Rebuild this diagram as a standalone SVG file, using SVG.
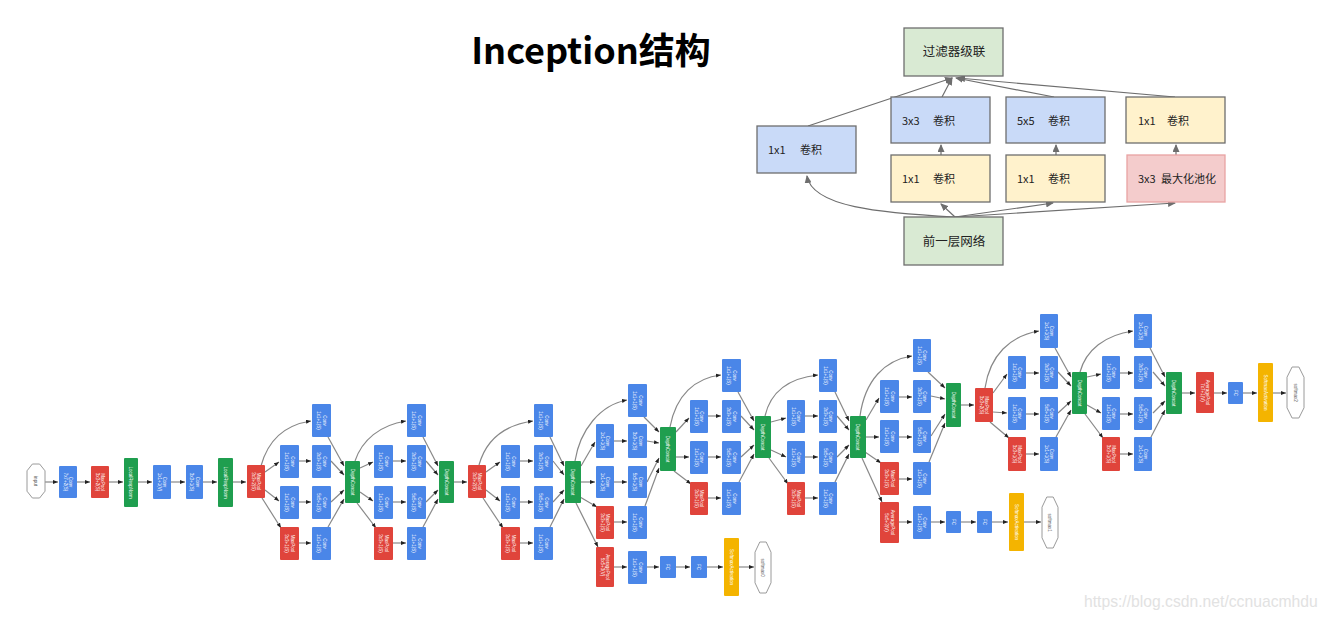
<svg xmlns="http://www.w3.org/2000/svg" width="1328" height="621" viewBox="0 0 1328 621">
<style>
.tb{stroke:#6e6e6e;stroke-width:1.3}
.tg{fill:#d9ead3}.tbl{fill:#c9daf8}.ty{fill:#fff2cc}.tp{fill:#f4cccc;stroke:#e9a3a3;stroke-width:1.3}
.tt{font-family:"Noto Sans CJK SC","Noto Sans",sans-serif;font-size:11px;fill:#222}
.tl{font-family:"Noto Sans CJK SC","Noto Sans",sans-serif;font-size:12.5px;fill:#222;text-anchor:middle}
.b{fill:#4a86e8}.r{fill:#e0443b}.g{fill:#1f9e4f}.y{fill:#f4b400}
.o{fill:#fff;stroke:#9a9a9a;stroke-width:1}
.w{font-family:"Liberation Sans",sans-serif;font-size:4.5px;fill:#fff;text-anchor:middle}
.k{font-family:"Liberation Sans",sans-serif;font-size:4.5px;fill:#555;text-anchor:middle}
#tconn path{fill:none;stroke:#6e6e6e;stroke-width:1.2;marker-end:url(#ta)}
#nconn path{fill:none;stroke:#888;stroke-width:1.2;marker-end:url(#na)}
</style>
<defs>
<marker id="ta" markerUnits="userSpaceOnUse" markerWidth="8" markerHeight="7" refX="7" refY="3.5" orient="auto"><path d="M0,0 L8,3.5 L0,7 z" fill="#6e6e6e"/></marker>
<marker id="na" markerUnits="userSpaceOnUse" markerWidth="5" markerHeight="4" refX="5" refY="2" orient="auto"><path d="M0,0 L5,2 L0,4 z" fill="#222"/></marker>
</defs>
<rect width="1328" height="621" fill="#fff"/>
<text x="591" y="64" text-anchor="middle" font-family="'Noto Sans CJK SC','Noto Sans',sans-serif" font-weight="bold" font-size="36">Inception结构</text>

<!-- top inception module -->
<g id="tconn">
<path d="M955,217 C880,213 812,207 807,176"/>
<path d="M955,217 L941,204"/>
<path d="M955,217 L1053,203"/>
<path d="M955,217 L1175,203"/>
<path d="M941,155 L941,145"/>
<path d="M1056,155 L1056,145"/>
<path d="M1176,155 L1176,145"/>
<path d="M808,126 L952,78"/>
<path d="M942,97 L952,78"/>
<path d="M1054,97 L956,78"/>
<path d="M1175,97 L958,78"/>
</g>
<g id="t-concat"><rect class="tb tg" x="904" y="28" width="99" height="48"/><text class="tl" x="954" y="56">过滤器级联</text></g>
<g id="t-1x1a"><rect class="tb tbl" x="757" y="126" width="99" height="47"/><text class="tt" x="768" y="154">1x1</text><text class="tt" x="800" y="154">卷积</text></g>
<g id="t-3x3"><rect class="tb tbl" x="891" y="97" width="99" height="46"/><text class="tt" x="902" y="125">3x3</text><text class="tt" x="933" y="125">卷积</text></g>
<g id="t-5x5"><rect class="tb tbl" x="1006" y="97" width="99" height="46"/><text class="tt" x="1017" y="125">5x5</text><text class="tt" x="1048" y="125">卷积</text></g>
<g id="t-1x1d"><rect class="tb ty" x="1126" y="97" width="99" height="46"/><text class="tt" x="1138" y="125">1x1</text><text class="tt" x="1167" y="125">卷积</text></g>
<g id="t-1x1b"><rect class="tb ty" x="891" y="155" width="99" height="47"/><text class="tt" x="902" y="183">1x1</text><text class="tt" x="933" y="183">卷积</text></g>
<g id="t-1x1c"><rect class="tb ty" x="1006" y="155" width="99" height="47"/><text class="tt" x="1017" y="183">1x1</text><text class="tt" x="1048" y="183">卷积</text></g>
<g id="t-pool"><rect class="tp" x="1127" y="155" width="98" height="47"/><text class="tt" x="1138" y="183">3x3</text><text class="tt" x="1161" y="183">最大化池化</text></g>
<g id="t-prev"><rect class="tb tg" x="904" y="217" width="99" height="48"/><text class="tl" x="954" y="246">前一层网络</text></g>

<!-- GoogLeNet connectors -->
<g id="nconn">
<path d="M45,482 L58,482"/><path d="M77,482 L90,482"/><path d="M109,482 L123,482"/><path d="M138,482 L152,482"/><path d="M171,482 L185,482"/><path d="M203,482 L217,482"/><path d="M233,482 L246,482"/>
<path d="M261,466 C268,440 285,425 311,421"/><path d="M265,472 L279,462"/><path d="M265,490 L279,501"/><path d="M262,498 L281,528"/>
<path d="M299,461 L311,461"/><path d="M299,502 L311,502"/><path d="M299,543 L311,543"/>
<path d="M328,437 L344,466"/><path d="M331,461 L344,475"/><path d="M331,502 L344,490"/><path d="M328,527 L344,499"/>
<path d="M355,461 C362,440 380,425 406,421"/><path d="M360,468 L373,462"/><path d="M360,492 L373,501"/><path d="M357,503 L376,528"/>
<path d="M393,461 L406,461"/><path d="M393,502 L406,502"/><path d="M393,543 L406,543"/>
<path d="M423,437 L438,466"/><path d="M426,461 L438,475"/><path d="M426,502 L438,490"/><path d="M423,527 L438,499"/>
<path d="M454,482 L467,482"/>
<path d="M479,465 C486,440 505,425 533,421"/><path d="M486,472 L500,462"/><path d="M486,490 L500,501"/><path d="M483,498 L503,528"/>
<path d="M520,461 L533,461"/><path d="M520,502 L533,502"/><path d="M520,543 L533,543"/>
<path d="M550,437 L564,466"/><path d="M553,461 L564,475"/><path d="M553,502 L564,490"/><path d="M550,527 L564,499"/>
<path d="M575,461 C580,430 600,405 627,400"/><path d="M581,466 L595,442"/><path d="M581,482 L595,482"/><path d="M580,497 L597,507"/><path d="M576,503 L598,547"/>
<path d="M614,441 L627,441"/><path d="M614,482 L627,482"/><path d="M614,522 L627,522"/>
<path d="M614,567 L627,567"/><path d="M647,567 L659,567"/><path d="M676,567 L690,567"/><path d="M707,567 L723,567"/><path d="M739,567 L754,567"/>
<path d="M644,417 L659,432"/><path d="M647,441 L659,443"/><path d="M647,482 L659,458"/><path d="M645,506 L659,468"/>
<path d="M670,427 C676,395 695,378 721,375"/><path d="M676,432 L689,418"/><path d="M676,457 L689,457"/><path d="M674,471 L691,484"/>
<path d="M708,416 L721,416"/><path d="M708,457 L721,457"/><path d="M708,498 L721,498"/>
<path d="M738,392 L754,421"/><path d="M741,416 L754,430"/><path d="M741,457 L754,445"/><path d="M739,482 L754,454"/>
<path d="M765,416 C771,390 790,378 818,375"/><path d="M771,422 L786,418"/><path d="M771,450 L786,457"/><path d="M769,458 L788,484"/>
<path d="M805,416 L818,416"/><path d="M805,457 L818,457"/><path d="M805,498 L818,498"/>
<path d="M835,392 L849,421"/><path d="M837,416 L849,430"/><path d="M837,457 L849,445"/><path d="M835,482 L849,454"/>
<path d="M860,416 C865,380 885,360 912,356"/><path d="M866,420 L879,398"/><path d="M866,437 L879,437"/><path d="M865,452 L881,463"/><path d="M862,458 L882,502"/>
<path d="M899,397 L912,397"/><path d="M899,437 L912,437"/><path d="M899,479 L912,479"/>
<path d="M899,522 L912,522"/><path d="M931,522 L945,522"/><path d="M961,522 L976,522"/><path d="M992,522 L1008,522"/><path d="M1024,522 L1041,522"/>
<path d="M928,372 L945,388"/><path d="M931,396 L945,399"/><path d="M931,436 L945,414"/><path d="M929,462 L945,423"/>
<path d="M961,405 L974,405"/>
<path d="M985,388 C990,355 1010,336 1039,331"/><path d="M993,393 L1007,374"/><path d="M993,412 L1007,413"/><path d="M990,422 L1009,438"/>
<path d="M1026,373 L1039,373"/><path d="M1026,414 L1039,414"/><path d="M1026,454 L1039,454"/>
<path d="M1055,348 L1071,377"/><path d="M1058,372 L1071,386"/><path d="M1058,413 L1071,401"/><path d="M1056,437 L1071,410"/>
<path d="M1080,372 C1086,350 1105,335 1133,331"/><path d="M1087,377 L1101,374"/><path d="M1087,405 L1101,413"/><path d="M1085,414 L1103,438"/>
<path d="M1120,373 L1133,373"/><path d="M1120,414 L1133,414"/><path d="M1120,454 L1133,454"/>
<path d="M1150,348 L1165,377"/><path d="M1153,372 L1165,386"/><path d="M1153,413 L1165,401"/><path d="M1151,437 L1165,410"/>
<path d="M1182,393 L1195,393"/><path d="M1214,393 L1227,393"/><path d="M1243,393 L1257,393"/><path d="M1273,393 L1286,393"/>
</g>

<g id="input"><polygon class="o" points="32.4,464 39.6,464 45,470.8 45,491.2 39.6,498 32.4,498 27,491.2 27,470.8"/><text class="k" transform="translate(36,481) rotate(90)" y="1.6">input</text></g>
<g id="conv1"><rect class="b" x="59" y="466" width="18" height="32" rx="1"/><text class="w" transform="translate(68,482) rotate(90)"><tspan x="0" y="-1">Conv</tspan><tspan x="0" y="4.5">7x7+2(S)</tspan></text></g>
<g id="pool1"><rect class="r" x="91" y="466" width="18" height="32" rx="1"/><text class="w" transform="translate(100,482) rotate(90)"><tspan x="0" y="-1">MaxPool</tspan><tspan x="0" y="4.5">3x3+2(S)</tspan></text></g>
<g id="lrn1"><rect class="g" x="124" y="458" width="14" height="49" rx="1"/><text class="w" transform="translate(131,482.5) rotate(90)" y="1.6">LocalRespNorm</text></g>
<g id="conv2r"><rect class="b" x="153" y="465" width="18" height="34" rx="1"/><text class="w" transform="translate(162,482) rotate(90)"><tspan x="0" y="-1">Conv</tspan><tspan x="0" y="4.5">1x1+1(V)</tspan></text></g>
<g id="conv2"><rect class="b" x="186" y="465" width="17" height="34" rx="1"/><text class="w" transform="translate(194.5,482) rotate(90)"><tspan x="0" y="-1">Conv</tspan><tspan x="0" y="4.5">3x3+1(S)</tspan></text></g>
<g id="lrn2"><rect class="g" x="218" y="458" width="15" height="49" rx="1"/><text class="w" transform="translate(225.5,482.5) rotate(90)" y="1.6">LocalRespNorm</text></g>
<g id="pool2"><rect class="r" x="247" y="465" width="18" height="33" rx="1"/><text class="w" transform="translate(256,481.5) rotate(90)"><tspan x="0" y="-1">MaxPool</tspan><tspan x="0" y="4.5">3x3+2(S)</tspan></text></g>

<g id="i3a-1x1"><rect class="b" x="312" y="404" width="19" height="33" rx="1"/><text class="w" transform="translate(321.5,420.5) rotate(90)"><tspan x="0" y="-1">Conv</tspan><tspan x="0" y="4.5">1x1+1(S)</tspan></text></g>
<g id="i3a-3r"><rect class="b" x="280" y="445" width="19" height="33" rx="1"/><text class="w" transform="translate(289.5,461.5) rotate(90)"><tspan x="0" y="-1">Conv</tspan><tspan x="0" y="4.5">1x1+1(S)</tspan></text></g>
<g id="i3a-3"><rect class="b" x="312" y="445" width="19" height="33" rx="1"/><text class="w" transform="translate(321.5,461.5) rotate(90)"><tspan x="0" y="-1">Conv</tspan><tspan x="0" y="4.5">3x3+1(S)</tspan></text></g>
<g id="i3a-5r"><rect class="b" x="280" y="486" width="19" height="33" rx="1"/><text class="w" transform="translate(289.5,502.5) rotate(90)"><tspan x="0" y="-1">Conv</tspan><tspan x="0" y="4.5">1x1+1(S)</tspan></text></g>
<g id="i3a-5"><rect class="b" x="312" y="486" width="19" height="33" rx="1"/><text class="w" transform="translate(321.5,502.5) rotate(90)"><tspan x="0" y="-1">Conv</tspan><tspan x="0" y="4.5">5x5+1(S)</tspan></text></g>
<g id="i3a-mp"><rect class="r" x="280" y="527" width="19" height="33" rx="1"/><text class="w" transform="translate(289.5,543.5) rotate(90)"><tspan x="0" y="-1">MaxPool</tspan><tspan x="0" y="4.5">3x3+1(S)</tspan></text></g>
<g id="i3a-pp"><rect class="b" x="312" y="527" width="19" height="33" rx="1"/><text class="w" transform="translate(321.5,543.5) rotate(90)"><tspan x="0" y="-1">Conv</tspan><tspan x="0" y="4.5">1x1+1(S)</tspan></text></g>
<g id="concat3a"><rect class="g" x="345" y="461" width="15" height="42" rx="1"/><text class="w" transform="translate(352.5,482) rotate(90)" y="1.6">DepthConcat</text></g>

<g id="i3b-1x1"><rect class="b" x="407" y="404" width="19" height="33" rx="1"/><text class="w" transform="translate(416.5,420.5) rotate(90)"><tspan x="0" y="-1">Conv</tspan><tspan x="0" y="4.5">1x1+1(S)</tspan></text></g>
<g id="i3b-3r"><rect class="b" x="374" y="445" width="19" height="33" rx="1"/><text class="w" transform="translate(383.5,461.5) rotate(90)"><tspan x="0" y="-1">Conv</tspan><tspan x="0" y="4.5">1x1+1(S)</tspan></text></g>
<g id="i3b-3"><rect class="b" x="407" y="445" width="19" height="33" rx="1"/><text class="w" transform="translate(416.5,461.5) rotate(90)"><tspan x="0" y="-1">Conv</tspan><tspan x="0" y="4.5">3x3+1(S)</tspan></text></g>
<g id="i3b-5r"><rect class="b" x="374" y="486" width="19" height="33" rx="1"/><text class="w" transform="translate(383.5,502.5) rotate(90)"><tspan x="0" y="-1">Conv</tspan><tspan x="0" y="4.5">1x1+1(S)</tspan></text></g>
<g id="i3b-5"><rect class="b" x="407" y="486" width="19" height="33" rx="1"/><text class="w" transform="translate(416.5,502.5) rotate(90)"><tspan x="0" y="-1">Conv</tspan><tspan x="0" y="4.5">5x5+1(S)</tspan></text></g>
<g id="i3b-mp"><rect class="r" x="374" y="527" width="19" height="33" rx="1"/><text class="w" transform="translate(383.5,543.5) rotate(90)"><tspan x="0" y="-1">MaxPool</tspan><tspan x="0" y="4.5">3x3+1(S)</tspan></text></g>
<g id="i3b-pp"><rect class="b" x="407" y="527" width="19" height="33" rx="1"/><text class="w" transform="translate(416.5,543.5) rotate(90)"><tspan x="0" y="-1">Conv</tspan><tspan x="0" y="4.5">1x1+1(S)</tspan></text></g>
<g id="concat3b"><rect class="g" x="439" y="461" width="15" height="42" rx="1"/><text class="w" transform="translate(446.5,482) rotate(90)" y="1.6">DepthConcat</text></g>
<g id="pool3"><rect class="r" x="468" y="465" width="18" height="33" rx="1"/><text class="w" transform="translate(477,481.5) rotate(90)"><tspan x="0" y="-1">MaxPool</tspan><tspan x="0" y="4.5">3x3+2(S)</tspan></text></g>

<g id="i4a-1x1"><rect class="b" x="534" y="404" width="19" height="33" rx="1"/><text class="w" transform="translate(543.5,420.5) rotate(90)"><tspan x="0" y="-1">Conv</tspan><tspan x="0" y="4.5">1x1+1(S)</tspan></text></g>
<g id="i4a-3r"><rect class="b" x="501" y="445" width="19" height="33" rx="1"/><text class="w" transform="translate(510.5,461.5) rotate(90)"><tspan x="0" y="-1">Conv</tspan><tspan x="0" y="4.5">1x1+1(S)</tspan></text></g>
<g id="i4a-3"><rect class="b" x="534" y="445" width="19" height="33" rx="1"/><text class="w" transform="translate(543.5,461.5) rotate(90)"><tspan x="0" y="-1">Conv</tspan><tspan x="0" y="4.5">3x3+1(S)</tspan></text></g>
<g id="i4a-5r"><rect class="b" x="501" y="486" width="19" height="33" rx="1"/><text class="w" transform="translate(510.5,502.5) rotate(90)"><tspan x="0" y="-1">Conv</tspan><tspan x="0" y="4.5">1x1+1(S)</tspan></text></g>
<g id="i4a-5"><rect class="b" x="534" y="486" width="19" height="33" rx="1"/><text class="w" transform="translate(543.5,502.5) rotate(90)"><tspan x="0" y="-1">Conv</tspan><tspan x="0" y="4.5">5x5+1(S)</tspan></text></g>
<g id="i4a-mp"><rect class="r" x="501" y="527" width="19" height="33" rx="1"/><text class="w" transform="translate(510.5,543.5) rotate(90)"><tspan x="0" y="-1">MaxPool</tspan><tspan x="0" y="4.5">3x3+1(S)</tspan></text></g>
<g id="i4a-pp"><rect class="b" x="534" y="527" width="19" height="33" rx="1"/><text class="w" transform="translate(543.5,543.5) rotate(90)"><tspan x="0" y="-1">Conv</tspan><tspan x="0" y="4.5">1x1+1(S)</tspan></text></g>
<g id="concat4a"><rect class="g" x="565" y="461" width="16" height="42" rx="1"/><text class="w" transform="translate(573,482) rotate(90)" y="1.6">DepthConcat</text></g>

<g id="i4b-1x1"><rect class="b" x="628" y="384" width="19" height="33" rx="1"/><text class="w" transform="translate(637.5,400.5) rotate(90)"><tspan x="0" y="-1">Conv</tspan><tspan x="0" y="4.5">1x1+1(S)</tspan></text></g>
<g id="i4b-3r"><rect class="b" x="596" y="424" width="18" height="34" rx="1"/><text class="w" transform="translate(605,441) rotate(90)"><tspan x="0" y="-1">Conv</tspan><tspan x="0" y="4.5">1x1+1(S)</tspan></text></g>
<g id="i4b-3"><rect class="b" x="628" y="424" width="19" height="34" rx="1"/><text class="w" transform="translate(637.5,441) rotate(90)"><tspan x="0" y="-1">Conv</tspan><tspan x="0" y="4.5">3x3+1(S)</tspan></text></g>
<g id="i4b-5r"><rect class="b" x="596" y="466" width="18" height="32" rx="1"/><text class="w" transform="translate(605,482) rotate(90)"><tspan x="0" y="-1">Conv</tspan><tspan x="0" y="4.5">1x1+1(S)</tspan></text></g>
<g id="i4b-5"><rect class="b" x="628" y="466" width="19" height="32" rx="1"/><text class="w" transform="translate(637.5,482) rotate(90)"><tspan x="0" y="-1">Conv</tspan><tspan x="0" y="4.5">5x5+1(S)</tspan></text></g>
<g id="i4b-mp"><rect class="r" x="596" y="506" width="18" height="33" rx="1"/><text class="w" transform="translate(605,522.5) rotate(90)"><tspan x="0" y="-1">MaxPool</tspan><tspan x="0" y="4.5">3x3+1(S)</tspan></text></g>
<g id="i4b-pp"><rect class="b" x="628" y="506" width="19" height="33" rx="1"/><text class="w" transform="translate(637.5,522.5) rotate(90)"><tspan x="0" y="-1">Conv</tspan><tspan x="0" y="4.5">1x1+1(S)</tspan></text></g>
<g id="aux0-pool"><rect class="r" x="596" y="547" width="18" height="40" rx="1"/><text class="w" transform="translate(605,567) rotate(90)"><tspan x="0" y="-1">AveragePool</tspan><tspan x="0" y="4.5">5x5+3(V)</tspan></text></g>
<g id="aux0-conv"><rect class="b" x="628" y="551" width="19" height="33" rx="1"/><text class="w" transform="translate(637.5,567.5) rotate(90)"><tspan x="0" y="-1">Conv</tspan><tspan x="0" y="4.5">1x1+1(S)</tspan></text></g>
<g id="aux0-fc1"><rect class="b" x="660" y="556" width="16" height="22" rx="1"/><text class="w" transform="translate(668,567) rotate(90)" y="1.6">FC</text></g>
<g id="aux0-fc2"><rect class="b" x="691" y="556" width="16" height="22" rx="1"/><text class="w" transform="translate(699,567) rotate(90)" y="1.6">FC</text></g>
<g id="aux0-sm"><rect class="y" x="724" y="538" width="15" height="58" rx="1"/><text class="w" transform="translate(731.5,567) rotate(90)" y="1.6">SoftmaxActivation</text></g>
<g id="softmax0"><polygon class="o" points="759.8,542 766.2,542 771,552.2 771,582.8 766.2,593 759.8,593 755,582.8 755,552.2"/><text class="k" transform="translate(763,567.5) rotate(90)" y="1.6">softmax0</text></g>
<g id="concat4b"><rect class="g" x="660" y="427" width="16" height="44" rx="1"/><text class="w" transform="translate(668,449) rotate(90)" y="1.6">DepthConcat</text></g>

<g id="i4c-1x1"><rect class="b" x="722" y="359" width="19" height="33" rx="1"/><text class="w" transform="translate(731.5,375.5) rotate(90)"><tspan x="0" y="-1">Conv</tspan><tspan x="0" y="4.5">1x1+1(S)</tspan></text></g>
<g id="i4c-3r"><rect class="b" x="690" y="400" width="18" height="33" rx="1"/><text class="w" transform="translate(699,416.5) rotate(90)"><tspan x="0" y="-1">Conv</tspan><tspan x="0" y="4.5">1x1+1(S)</tspan></text></g>
<g id="i4c-3"><rect class="b" x="722" y="400" width="19" height="33" rx="1"/><text class="w" transform="translate(731.5,416.5) rotate(90)"><tspan x="0" y="-1">Conv</tspan><tspan x="0" y="4.5">3x3+1(S)</tspan></text></g>
<g id="i4c-5r"><rect class="b" x="690" y="441" width="18" height="33" rx="1"/><text class="w" transform="translate(699,457.5) rotate(90)"><tspan x="0" y="-1">Conv</tspan><tspan x="0" y="4.5">1x1+1(S)</tspan></text></g>
<g id="i4c-5"><rect class="b" x="722" y="441" width="19" height="33" rx="1"/><text class="w" transform="translate(731.5,457.5) rotate(90)"><tspan x="0" y="-1">Conv</tspan><tspan x="0" y="4.5">5x5+1(S)</tspan></text></g>
<g id="i4c-mp"><rect class="r" x="690" y="482" width="18" height="33" rx="1"/><text class="w" transform="translate(699,498.5) rotate(90)"><tspan x="0" y="-1">MaxPool</tspan><tspan x="0" y="4.5">3x3+1(S)</tspan></text></g>
<g id="i4c-pp"><rect class="b" x="722" y="482" width="19" height="33" rx="1"/><text class="w" transform="translate(731.5,498.5) rotate(90)"><tspan x="0" y="-1">Conv</tspan><tspan x="0" y="4.5">1x1+1(S)</tspan></text></g>
<g id="concat4c"><rect class="g" x="755" y="416" width="16" height="42" rx="1"/><text class="w" transform="translate(763,437) rotate(90)" y="1.6">DepthConcat</text></g>

<g id="i4d-1x1"><rect class="b" x="819" y="359" width="18" height="33" rx="1"/><text class="w" transform="translate(828,375.5) rotate(90)"><tspan x="0" y="-1">Conv</tspan><tspan x="0" y="4.5">1x1+1(S)</tspan></text></g>
<g id="i4d-3r"><rect class="b" x="787" y="400" width="18" height="33" rx="1"/><text class="w" transform="translate(796,416.5) rotate(90)"><tspan x="0" y="-1">Conv</tspan><tspan x="0" y="4.5">1x1+1(S)</tspan></text></g>
<g id="i4d-3"><rect class="b" x="819" y="400" width="18" height="33" rx="1"/><text class="w" transform="translate(828,416.5) rotate(90)"><tspan x="0" y="-1">Conv</tspan><tspan x="0" y="4.5">3x3+1(S)</tspan></text></g>
<g id="i4d-5r"><rect class="b" x="787" y="441" width="18" height="33" rx="1"/><text class="w" transform="translate(796,457.5) rotate(90)"><tspan x="0" y="-1">Conv</tspan><tspan x="0" y="4.5">1x1+1(S)</tspan></text></g>
<g id="i4d-5"><rect class="b" x="819" y="441" width="18" height="33" rx="1"/><text class="w" transform="translate(828,457.5) rotate(90)"><tspan x="0" y="-1">Conv</tspan><tspan x="0" y="4.5">5x5+1(S)</tspan></text></g>
<g id="i4d-mp"><rect class="r" x="787" y="482" width="18" height="33" rx="1"/><text class="w" transform="translate(796,498.5) rotate(90)"><tspan x="0" y="-1">MaxPool</tspan><tspan x="0" y="4.5">3x3+1(S)</tspan></text></g>
<g id="i4d-pp"><rect class="b" x="819" y="482" width="18" height="33" rx="1"/><text class="w" transform="translate(828,498.5) rotate(90)"><tspan x="0" y="-1">Conv</tspan><tspan x="0" y="4.5">1x1+1(S)</tspan></text></g>
<g id="concat4d"><rect class="g" x="850" y="416" width="16" height="42" rx="1"/><text class="w" transform="translate(858,437) rotate(90)" y="1.6">DepthConcat</text></g>

<g id="i4e-1x1"><rect class="b" x="913" y="339" width="18" height="33" rx="1"/><text class="w" transform="translate(922,355.5) rotate(90)"><tspan x="0" y="-1">Conv</tspan><tspan x="0" y="4.5">1x1+1(S)</tspan></text></g>
<g id="i4e-3r"><rect class="b" x="880" y="380" width="19" height="33" rx="1"/><text class="w" transform="translate(889.5,396.5) rotate(90)"><tspan x="0" y="-1">Conv</tspan><tspan x="0" y="4.5">1x1+1(S)</tspan></text></g>
<g id="i4e-3"><rect class="b" x="913" y="380" width="18" height="33" rx="1"/><text class="w" transform="translate(922,396.5) rotate(90)"><tspan x="0" y="-1">Conv</tspan><tspan x="0" y="4.5">3x3+1(S)</tspan></text></g>
<g id="i4e-5r"><rect class="b" x="880" y="420" width="19" height="33" rx="1"/><text class="w" transform="translate(889.5,436.5) rotate(90)"><tspan x="0" y="-1">Conv</tspan><tspan x="0" y="4.5">1x1+1(S)</tspan></text></g>
<g id="i4e-5"><rect class="b" x="913" y="420" width="18" height="33" rx="1"/><text class="w" transform="translate(922,436.5) rotate(90)"><tspan x="0" y="-1">Conv</tspan><tspan x="0" y="4.5">5x5+1(S)</tspan></text></g>
<g id="i4e-mp"><rect class="r" x="880" y="462" width="19" height="33" rx="1"/><text class="w" transform="translate(889.5,478.5) rotate(90)"><tspan x="0" y="-1">MaxPool</tspan><tspan x="0" y="4.5">3x3+1(S)</tspan></text></g>
<g id="i4e-pp"><rect class="b" x="913" y="462" width="18" height="33" rx="1"/><text class="w" transform="translate(922,478.5) rotate(90)"><tspan x="0" y="-1">Conv</tspan><tspan x="0" y="4.5">1x1+1(S)</tspan></text></g>
<g id="aux1-pool"><rect class="r" x="880" y="502" width="19" height="41" rx="1"/><text class="w" transform="translate(889.5,522.5) rotate(90)"><tspan x="0" y="-1">AveragePool</tspan><tspan x="0" y="4.5">5x5+3(V)</tspan></text></g>
<g id="aux1-conv"><rect class="b" x="913" y="506" width="18" height="33" rx="1"/><text class="w" transform="translate(922,522.5) rotate(90)"><tspan x="0" y="-1">Conv</tspan><tspan x="0" y="4.5">1x1+1(S)</tspan></text></g>
<g id="aux1-fc1"><rect class="b" x="946" y="511" width="15" height="22" rx="1"/><text class="w" transform="translate(953.5,522) rotate(90)" y="1.6">FC</text></g>
<g id="aux1-fc2"><rect class="b" x="977" y="511" width="15" height="22" rx="1"/><text class="w" transform="translate(984.5,522) rotate(90)" y="1.6">FC</text></g>
<g id="aux1-sm"><rect class="y" x="1009" y="493" width="15" height="58" rx="1"/><text class="w" transform="translate(1016.5,522) rotate(90)" y="1.6">SoftmaxActivation</text></g>
<g id="softmax1"><polygon class="o" points="1046.8,497 1053.2,497 1058,507.2 1058,537.8 1053.2,548 1046.8,548 1042,537.8 1042,507.2"/><text class="k" transform="translate(1050,522.5) rotate(90)" y="1.6">softmax1</text></g>
<g id="concat4e"><rect class="g" x="946" y="383" width="15" height="44" rx="1"/><text class="w" transform="translate(953.5,405) rotate(90)" y="1.6">DepthConcat</text></g>
<g id="pool4"><rect class="r" x="975" y="388" width="18" height="34" rx="1"/><text class="w" transform="translate(984,405) rotate(90)"><tspan x="0" y="-1">MaxPool</tspan><tspan x="0" y="4.5">3x3+2(S)</tspan></text></g>

<g id="i5a-1x1"><rect class="b" x="1040" y="314" width="18" height="34" rx="1"/><text class="w" transform="translate(1049,331) rotate(90)"><tspan x="0" y="-1">Conv</tspan><tspan x="0" y="4.5">1x1+1(S)</tspan></text></g>
<g id="i5a-3r"><rect class="b" x="1008" y="356" width="18" height="33" rx="1"/><text class="w" transform="translate(1017,372.5) rotate(90)"><tspan x="0" y="-1">Conv</tspan><tspan x="0" y="4.5">1x1+1(S)</tspan></text></g>
<g id="i5a-3"><rect class="b" x="1040" y="356" width="18" height="33" rx="1"/><text class="w" transform="translate(1049,372.5) rotate(90)"><tspan x="0" y="-1">Conv</tspan><tspan x="0" y="4.5">3x3+1(S)</tspan></text></g>
<g id="i5a-5r"><rect class="b" x="1008" y="397" width="18" height="33" rx="1"/><text class="w" transform="translate(1017,413.5) rotate(90)"><tspan x="0" y="-1">Conv</tspan><tspan x="0" y="4.5">1x1+1(S)</tspan></text></g>
<g id="i5a-5"><rect class="b" x="1040" y="397" width="18" height="33" rx="1"/><text class="w" transform="translate(1049,413.5) rotate(90)"><tspan x="0" y="-1">Conv</tspan><tspan x="0" y="4.5">5x5+1(S)</tspan></text></g>
<g id="i5a-mp"><rect class="r" x="1008" y="437" width="18" height="34" rx="1"/><text class="w" transform="translate(1017,454) rotate(90)"><tspan x="0" y="-1">MaxPool</tspan><tspan x="0" y="4.5">3x3+1(S)</tspan></text></g>
<g id="i5a-pp"><rect class="b" x="1040" y="437" width="18" height="34" rx="1"/><text class="w" transform="translate(1049,454) rotate(90)"><tspan x="0" y="-1">Conv</tspan><tspan x="0" y="4.5">1x1+1(S)</tspan></text></g>
<g id="concat5a"><rect class="g" x="1072" y="372" width="15" height="42" rx="1"/><text class="w" transform="translate(1079.5,393) rotate(90)" y="1.6">DepthConcat</text></g>

<g id="i5b-1x1"><rect class="b" x="1134" y="314" width="18" height="34" rx="1"/><text class="w" transform="translate(1143,331) rotate(90)"><tspan x="0" y="-1">Conv</tspan><tspan x="0" y="4.5">1x1+1(S)</tspan></text></g>
<g id="i5b-3r"><rect class="b" x="1102" y="356" width="18" height="33" rx="1"/><text class="w" transform="translate(1111,372.5) rotate(90)"><tspan x="0" y="-1">Conv</tspan><tspan x="0" y="4.5">1x1+1(S)</tspan></text></g>
<g id="i5b-3"><rect class="b" x="1134" y="356" width="18" height="33" rx="1"/><text class="w" transform="translate(1143,372.5) rotate(90)"><tspan x="0" y="-1">Conv</tspan><tspan x="0" y="4.5">3x3+1(S)</tspan></text></g>
<g id="i5b-5r"><rect class="b" x="1102" y="397" width="18" height="33" rx="1"/><text class="w" transform="translate(1111,413.5) rotate(90)"><tspan x="0" y="-1">Conv</tspan><tspan x="0" y="4.5">1x1+1(S)</tspan></text></g>
<g id="i5b-5"><rect class="b" x="1134" y="397" width="18" height="33" rx="1"/><text class="w" transform="translate(1143,413.5) rotate(90)"><tspan x="0" y="-1">Conv</tspan><tspan x="0" y="4.5">5x5+1(S)</tspan></text></g>
<g id="i5b-mp"><rect class="r" x="1102" y="437" width="18" height="34" rx="1"/><text class="w" transform="translate(1111,454) rotate(90)"><tspan x="0" y="-1">MaxPool</tspan><tspan x="0" y="4.5">3x3+1(S)</tspan></text></g>
<g id="i5b-pp"><rect class="b" x="1134" y="437" width="18" height="34" rx="1"/><text class="w" transform="translate(1143,454) rotate(90)"><tspan x="0" y="-1">Conv</tspan><tspan x="0" y="4.5">1x1+1(S)</tspan></text></g>
<g id="concat5b"><rect class="g" x="1166" y="372" width="16" height="42" rx="1"/><text class="w" transform="translate(1174,393) rotate(90)" y="1.6">DepthConcat</text></g>

<g id="avgpool"><rect class="r" x="1196" y="372" width="18" height="41" rx="1"/><text class="w" transform="translate(1205,392.5) rotate(90)"><tspan x="0" y="-1">AveragePool</tspan><tspan x="0" y="4.5">7x7+1(V)</tspan></text></g>
<g id="fc"><rect class="b" x="1228" y="382" width="15" height="22" rx="1"/><text class="w" transform="translate(1235.5,393) rotate(90)" y="1.6">FC</text></g>
<g id="sm2"><rect class="y" x="1258" y="363" width="15" height="59" rx="1"/><text class="w" transform="translate(1265.5,392.5) rotate(90)" y="1.6">SoftmaxActivation</text></g>
<g id="softmax2"><polygon class="o" points="1292.1,367 1298.9,367 1304,377.2 1304,407.8 1298.9,418 1292.1,418 1287,407.8 1287,377.2"/><text class="k" transform="translate(1295.5,392.5) rotate(90)" y="1.6">softmax2</text></g>

<text x="1084" y="607" font-family="'Liberation Sans',sans-serif" font-size="15.7" fill="#e2e2e2">https://blog.csdn.net/ccnuacmhdu</text>
</svg>
